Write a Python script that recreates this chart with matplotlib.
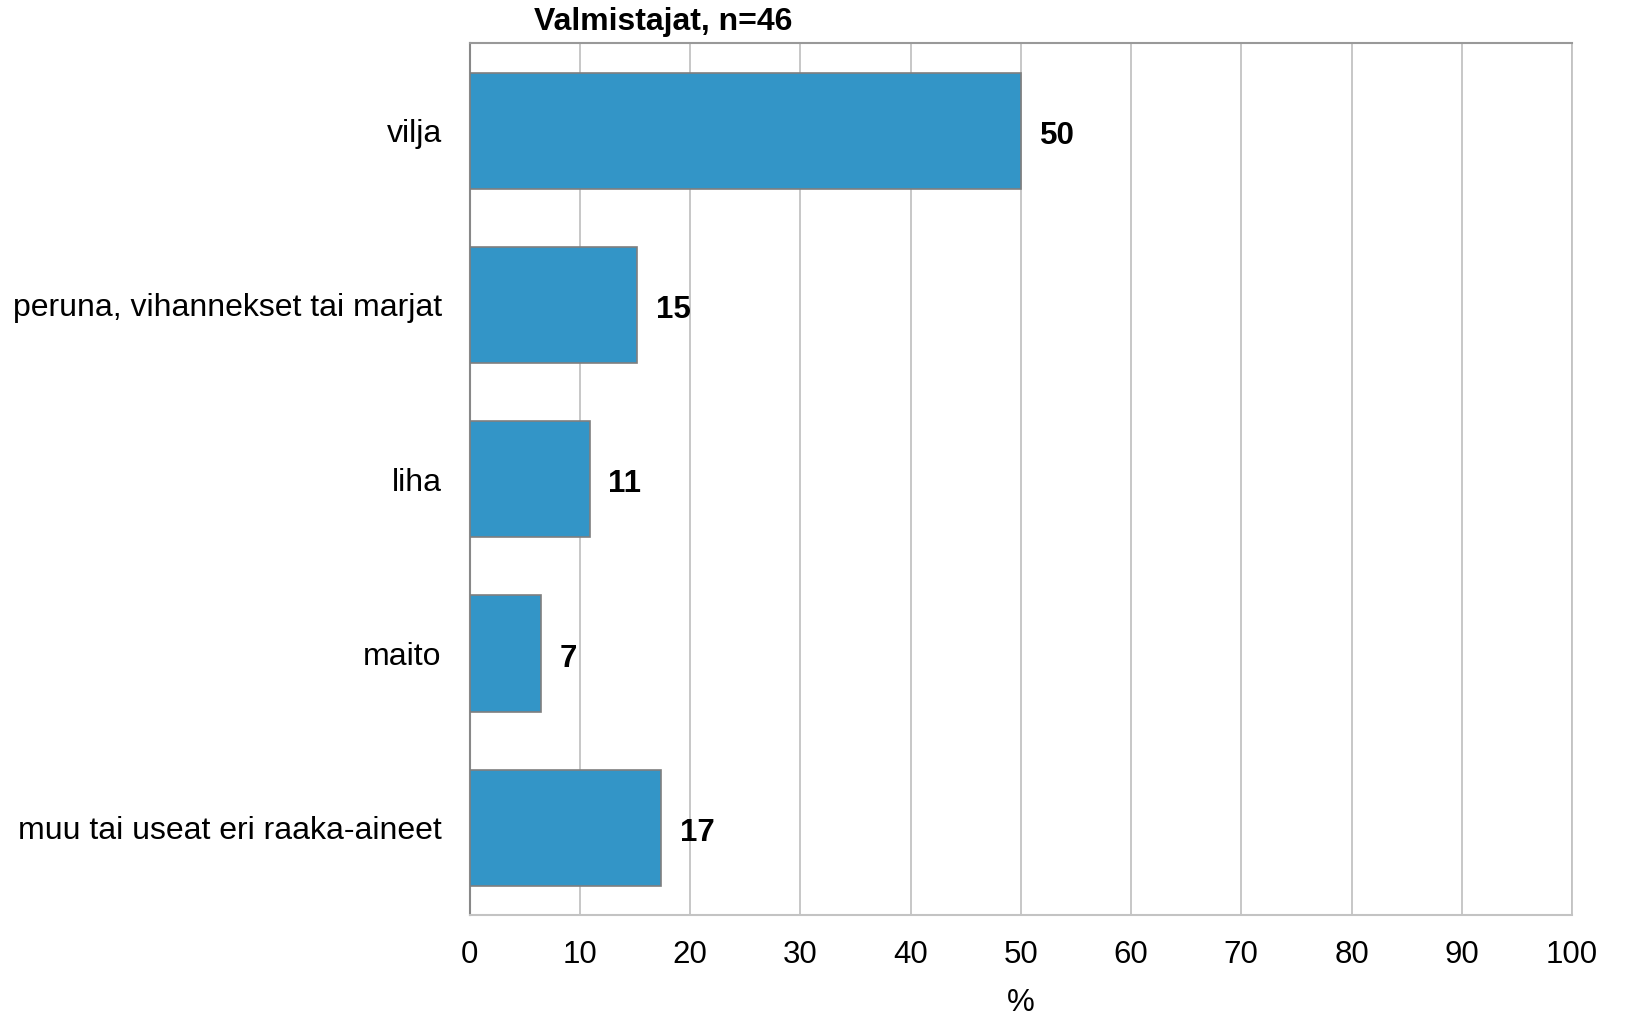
import matplotlib
matplotlib.use("Agg")
import matplotlib.pyplot as plt

categories = ["vilja", "peruna, vihannekset tai marjat", "liha", "maito",
              "muu tai useat eri raaka-aineet"]
values = [50.0, 15.2, 10.9, 6.5, 17.4]
labels = ["50", "15", "11", "7", "17"]
xticks = [0, 10, 20, 30, 40, 50, 60, 70, 80, 90, 100]
title = "Valmistajat, n=46"
xlabel = "%"

plt.rcParams['font.family'] = ['Liberation Sans', 'DejaVu Sans']

W, H = 1625, 1016
fig = plt.figure(figsize=(W / 100, H / 100), dpi=100)
ax = fig.add_axes([469.5 / W, 1 - 915 / H, (1572 - 469.5) / W, (915 - 43.5) / H])

ypos = list(range(len(categories)))
ax.barh(ypos, values, height=0.667, color="#3395C7", edgecolor="#7f7f7f",
        linewidth=1.2, zorder=3)
for y, v, t in zip(ypos, values, labels):
    ax.text(v + 1.7, y + 0.03, t, va="center", ha="left", fontsize=22.5,
            fontweight="bold", color="black")

ax.set_ylim(len(categories) - 0.5, -0.5)
ax.set_xlim(0, 100)
ax.set_yticks(ypos)
ax.set_yticklabels(categories, fontsize=23)
ax.set_xticks(xticks)
ax.set_xticklabels([str(x) for x in xticks], fontsize=22.5)
ax.tick_params(axis="both", length=0)
ax.tick_params(axis="x", pad=18)
ax.tick_params(axis="y", pad=20)
ax.xaxis.grid(True, color="#c3c3c3", linewidth=1.3, zorder=0)
ax.set_axisbelow(True)

ax.spines["left"].set_color("#888888")
ax.spines["left"].set_linewidth(1.5)
ax.spines["top"].set_color("#999999")
ax.spines["top"].set_linewidth(1.5)
ax.spines["right"].set_color("#c3c3c3")
ax.spines["right"].set_linewidth(1.3)
ax.spines["bottom"].set_color("#c3c3c3")
ax.spines["bottom"].set_linewidth(1.5)

fig.text(534 / W, 1 - 22 / H, title, ha="left", va="center", fontsize=23,
         fontweight="bold")
fig.text((469.5 + 1572) / 2 / W, 1 - 1003 / H, xlabel, ha="center",
         va="center", fontsize=22.5)

fig.savefig("out.png", dpi=100, facecolor="white")
